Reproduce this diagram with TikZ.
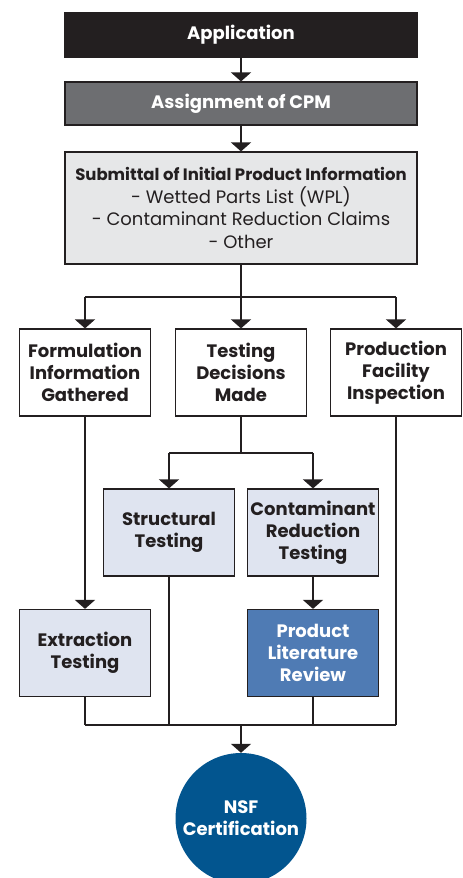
\documentclass[tikz,border=0pt]{standalone}
\usepackage{fontspec}
\setmainfont{Poppins}
\usepackage{tikz}
\usetikzlibrary{arrows.meta}
\definecolor{inkblack}{HTML}{231F20}
\definecolor{cpmgray}{HTML}{6D6E71}
\definecolor{subgray}{HTML}{E6E7E8}
\definecolor{testblue}{HTML}{DFE4F0}
\definecolor{litblue}{HTML}{4F7BB4}
\definecolor{nsfblue}{HTML}{02558F}
\tikzset{
  box/.style={draw=inkblack, line width=1.2pt, minimum width=131pt, minimum height=87pt,
    inner sep=2pt, align=center, text=inkblack, font=\bfseries\fontsize{18}{22}\selectfont},
  widebox/.style={box, minimum width=352pt},
  link/.style={draw=inkblack, line width=1.6pt},
  arr/.style={link, -{Triangle[width=20pt,length=9pt]}},
  bus/.style={draw=inkblack, line width=2.6pt},
}

\begin{document}
\begin{tikzpicture}[x=1pt,y=-1pt]
    \useasboundingbox (0,0) rectangle (463,878);
    % top column
    \node[widebox, fill=inkblack, text=white, minimum height=44pt] (app) at (241,35) {Application};
    \node[widebox, fill=cpmgray, text=white, minimum height=43pt] (cpm) at (241,103.5) {Assignment of CPM};
    \node[widebox, fill=subgray, minimum height=112pt, font=\fontsize{18}{22.5}\selectfont] (sub) at (241,208)
      {{\bfseries\fontsize{16.5}{22}\selectfont Submittal of Initial Product Information}\\
       - Wetted Parts List (WPL)\\ - Contaminant Reduction Claims\\ - Other};
    % second row
    \node[box, fill=white] (form) at (85,372.5) {Formulation\\Information\\Gathered};
    \node[box, fill=white] (dec) at (241,372.5) {Testing\\Decisions\\Made};
    \node[box, fill=white] (prod) at (396,372.5) {Production\\Facility\\Inspection};
    % tests
    \node[box, fill=testblue] (struct) at (169,532.5) {Structural\\Testing};
    \node[box, fill=testblue] (cont) at (313,532.5) {Contaminant\\Reduction\\Testing};
    \node[box, fill=testblue] (extr) at (85,653) {Extraction\\Testing};
    \node[box, fill=litblue, text=white] (lit) at (313,653) {Product\\Literature\\Review};
    \node[circle, fill=nsfblue, text=white, minimum size=131pt, align=center,
      font=\bfseries\fontsize{18}{22}\selectfont] (nsf) at (241,818.5) {NSF\\Certification};
    \coordinate (split) at (241,297);
    \coordinate (split2) at (241,453);
    \coordinate (join) at (241,725);
    % connectors
    \draw[arr] (app) -- (cpm);
    \draw[arr] (cpm) -- (sub);
    \draw[link] (sub) -- (split);
    \draw[bus] (form.north |- split) -- (prod.north |- split);
    \draw[arr] (form.north |- split) -- (form);
    \draw[arr] (split) -- (dec);
    \draw[arr] (prod.north |- split) -- (prod);
    \draw[link] (dec) -- (split2);
    \draw[bus] (struct.north |- split2) -- (cont.north |- split2);
    \draw[arr] (struct.north |- split2) -- (struct);
    \draw[arr] (cont.north |- split2) -- (cont);
    \draw[arr] (form) -- (extr);
    \draw[arr] (cont) -- (lit);
    \draw[link] (extr) -- (extr.south |- join);
    \draw[link] (struct) -- (struct.south |- join);
    \draw[link] (lit) -- (lit.south |- join);
    \draw[link] (prod) -- (prod.south |- join);
    \draw[bus] (extr.south |- join) -- (prod.south |- join);
    \draw[arr] (join) -- (nsf);
\end{tikzpicture}
\end{document}
